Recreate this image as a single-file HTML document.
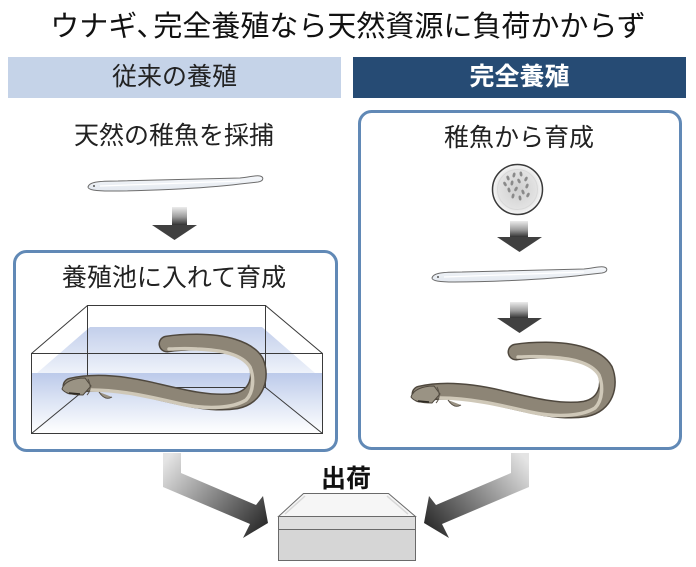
<!DOCTYPE html>
<html>
<head>
<meta charset="utf-8">
<style>
  html,body{margin:0;padding:0;background:#fff;}
  #wrap{position:relative;width:696px;height:567px;overflow:hidden;background:#fff;
    font-family:"Liberation Sans","Noto Sans CJK JP",sans-serif;color:#1a1a1a;}
  .t{position:absolute;white-space:nowrap;text-align:center;line-height:1;}
  svg{position:absolute;left:0;top:0;}
</style>
</head>
<body>
<div id="wrap">
<svg width="696" height="567" viewBox="0 0 696 567" xmlns="http://www.w3.org/2000/svg">
  <defs>
    <linearGradient id="dg" x1="0" y1="0" x2="0" y2="1">
      <stop offset="0" stop-color="#ececec"/>
      <stop offset="0.55" stop-color="#9c9c9c"/>
      <stop offset="1" stop-color="#333"/>
    </linearGradient>
    <linearGradient id="bgL" gradientUnits="userSpaceOnUse" x1="170" y1="455" x2="262" y2="530">
      <stop offset="0" stop-color="#e4e4e4"/>
      <stop offset="1" stop-color="#2c2c2c"/>
    </linearGradient>
    <linearGradient id="bgR" gradientUnits="userSpaceOnUse" x1="522" y1="455" x2="430" y2="530">
      <stop offset="0" stop-color="#e4e4e4"/>
      <stop offset="1" stop-color="#2c2c2c"/>
    </linearGradient>
    <linearGradient id="wtop" x1="0" y1="0" x2="0" y2="1">
      <stop offset="0" stop-color="#c3cfeb"/>
      <stop offset="1" stop-color="#eef2fa"/>
    </linearGradient>
    <linearGradient id="wfront" x1="0" y1="0" x2="0" y2="1">
      <stop offset="0" stop-color="#bccaea"/>
      <stop offset="0.45" stop-color="#dbe3f4"/>
      <stop offset="1" stop-color="#ffffff"/>
    </linearGradient>
    <radialGradient id="egg" cx="0.5" cy="0.5" r="0.5">
      <stop offset="0" stop-color="#cfcfcf"/>
      <stop offset="0.75" stop-color="#e2e2e2"/>
      <stop offset="1" stop-color="#f7f7f7"/>
    </radialGradient>
    <linearGradient id="glass" x1="0" y1="0" x2="0" y2="1">
      <stop offset="0" stop-color="#f6f8fb"/>
      <stop offset="1" stop-color="#e3e8ef"/>
    </linearGradient>
    <g id="eel">
      <path d="M420,394 C442,389 470,391 500,398 C530,405 560,413 585,409 C606,405 611,385 605,370 C597,356 572,350 546,350 C531,350 522,351 516,352"
            fill="none" stroke="#4f483e" stroke-width="17" stroke-linecap="round"/>
      <path d="M420,394 C442,389 470,391 500,398 C530,405 560,413 585,409 C606,405 611,385 605,370 C597,356 572,350 546,350 C531,350 522,351 516,352"
            fill="none" stroke="#8d8576" stroke-width="14" stroke-linecap="round"/>
      <path d="M440,398 C470,398 500,405 530,412 C558,418 582,416 595,408 C603,400 603,385 599,375 C591,362 570,358 546,357 C532,356 524,357 518,357"
            fill="none" stroke="#cfc8b8" stroke-width="3.5" stroke-linecap="round"/>
      <path d="M411,397 C413,390 422,386 434,386 L440,394 L432,403 C424,403 414,402 411,397 Z" fill="#9a9384" stroke="#4f483e" stroke-width="1"/>
      <path d="M418,401 L429,402" stroke="#2c2822" stroke-width="1.5"/>
      <path d="M448,400 C452,406 456,408 461,405" fill="#9a9283" stroke="#4f483e" stroke-width="1"/>
      <path d="M437,387 C440,393 440,399 436,403" fill="none" stroke="#5a5348" stroke-width="1"/>
    </g>
    <g id="glasseel">
      <path d="M88,187 C89,182 98,181 118,181 L240,178 C250,177 256,175 260,176 C264,177 264,181 258,182 L240,184 C200,189 140,191 110,191 C96,191 88,190 88,187 Z"
            fill="url(#glass)" stroke="#6d6d6d" stroke-width="1"/>
      <path d="M100,186 L240,181" stroke="#ffffff" stroke-width="1.2"/>
      <circle cx="94" cy="186" r="1" fill="#555"/>
    </g>
  </defs>

  <!-- header bands -->
  <rect x="8" y="57" width="333" height="41" fill="#c5d3e8"/>
  <rect x="353" y="57" width="333" height="41" fill="#264b74"/>

  <!-- left column -->
  <use href="#glasseel"/>
  <rect x="172" y="207" width="15" height="18" fill="url(#dg)"/>
  <polygon points="152,225 197,225 174.5,240" fill="#404040"/>

  <rect x="14.5" y="251.5" width="322" height="199" rx="12" ry="12" fill="#fff" stroke="#6189b6" stroke-width="3"/>

  <!-- tank -->
  <polygon points="90,327 262,327 315,373 37,373" fill="url(#wtop)"/>
  <rect x="32" y="373" width="290" height="60" fill="url(#wfront)"/>
  <g fill="none" stroke="#3a3a3a" stroke-width="1">
    <rect x="87.5" y="305.5" width="178" height="82"/>
    <rect x="31.5" y="353.5" width="291" height="80"/>
    <line x1="31.5" y1="353.5" x2="87.5" y2="305.5"/>
    <line x1="322.5" y1="353.5" x2="265.5" y2="305.5"/>
    <line x1="31.5" y1="433.5" x2="87.5" y2="387.5"/>
    <line x1="322.5" y1="433.5" x2="265.5" y2="387.5"/>
  </g>
  <use href="#eel" transform="translate(-349,-8)"/>

  <!-- right column -->
  <rect x="359.5" y="111.5" width="321" height="337" rx="12" ry="12" fill="#fff" stroke="#6189b6" stroke-width="3"/>
  <circle cx="517.5" cy="189.5" r="25" fill="url(#egg)" stroke="#3a3a3a" stroke-width="1.5"/>
  <circle cx="517.5" cy="189.5" r="20" fill="none" stroke="#d8d8d8" stroke-width="1"/>
  <g fill="#8a8a8a">
    <ellipse cx="508" cy="178" rx="1.4" ry="2.5" transform="rotate(-20 508 178)"/>
    <ellipse cx="514" cy="175" rx="1.4" ry="2.5" transform="rotate(15 514 175)"/>
    <ellipse cx="521" cy="174" rx="1.4" ry="2.5" transform="rotate(-10 521 174)"/>
    <ellipse cx="526" cy="179" rx="1.4" ry="2.5" transform="rotate(25 526 179)"/>
    <ellipse cx="505" cy="184" rx="1.4" ry="2.5" transform="rotate(-30 505 184)"/>
    <ellipse cx="512" cy="183" rx="1.4" ry="2.5" transform="rotate(10 512 183)"/>
    <ellipse cx="519" cy="181" rx="1.4" ry="2.5" transform="rotate(-25 519 181)"/>
    <ellipse cx="527" cy="186" rx="1.4" ry="2.5" transform="rotate(20 527 186)"/>
    <ellipse cx="509" cy="190" rx="1.4" ry="2.5" transform="rotate(-15 509 190)"/>
    <ellipse cx="516" cy="189" rx="1.4" ry="2.5" transform="rotate(30 516 189)"/>
    <ellipse cx="523" cy="192" rx="1.4" ry="2.5" transform="rotate(-20 523 192)"/>
    <ellipse cx="513" cy="196" rx="1.4" ry="2.5" transform="rotate(15 513 196)"/>
    <ellipse cx="520" cy="198" rx="1.4" ry="2.5" transform="rotate(-10 520 198)"/>
    <ellipse cx="528" cy="195" rx="1.4" ry="2.5" transform="rotate(25 528 195)"/>
  </g>

  <rect x="510" y="221" width="18" height="16" fill="url(#dg)"/>
  <polygon points="497,237 542,237 519.5,252" fill="#404040"/>

  <use href="#glasseel" transform="translate(344,91)"/>

  <rect x="510" y="302" width="18" height="16" fill="url(#dg)"/>
  <polygon points="497,318 542,318 519.5,333" fill="#404040"/>

  <use href="#eel"/>

  <!-- big arrows -->
  <polygon points="163,453 181,453 181,473 256,505 263,496 268,523 243,538 250,524 163,487" fill="url(#bgL)"/>
  <polygon points="529,453 511,453 511,473 436,505 429,496 424,523 449,538 442,524 529,487" fill="url(#bgR)"/>

  <!-- shipping box -->
  <polygon points="278.5,516.5 303.5,493.5 388.5,493.5 415.5,516.5" fill="#f6f6f6" stroke="#6a6a6a" stroke-width="1"/>
  <path d="M285,514 L305,496 M408,514 L387,496" stroke="#d8d8d8" stroke-width="1.5" fill="none"/>
  <rect x="278.5" y="516.5" width="137" height="13" fill="#dedede" stroke="#6a6a6a" stroke-width="1"/>
  <rect x="278.5" y="529.5" width="137" height="31" fill="#d6d6d6" stroke="#6a6a6a" stroke-width="1"/>
</svg>

<div class="t" style="left:0;top:13px;width:696px;font-size:29px;color:#111;">ウナギ<span style="margin-right:-12px;">、</span>完全養殖なら天然資源に負荷かからず</div>
<div class="t" style="left:8px;top:65px;width:333px;font-size:25px;color:#222;">従来の養殖</div>
<div class="t" style="left:353px;top:65px;width:333px;font-size:25px;color:#fff;font-weight:bold;">完全養殖</div>
<div class="t" style="left:24px;top:124px;width:300px;font-size:25px;color:#222;">天然の稚魚を採捕</div>
<div class="t" style="left:24px;top:266px;width:300px;font-size:25px;color:#222;">養殖池に入れて育成</div>
<div class="t" style="left:369px;top:126px;width:300px;font-size:25px;color:#222;">稚魚から育成</div>
<div class="t" style="left:296px;top:467px;width:100px;font-size:25px;color:#111;font-weight:bold;">出荷</div>
</div>
</body>
</html>
